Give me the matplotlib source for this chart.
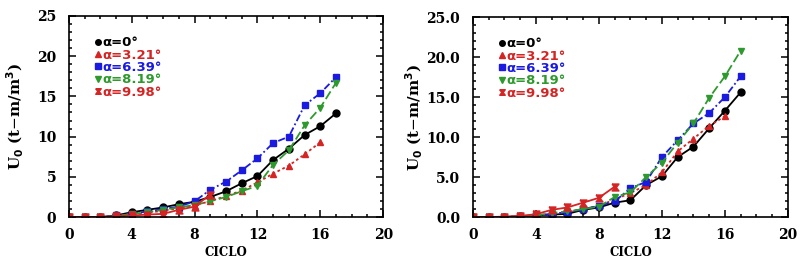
import matplotlib
matplotlib.use('Agg')
import matplotlib.pyplot as plt
from matplotlib.lines import Line2D
from matplotlib.ticker import MultipleLocator, FormatStrFormatter

ciclo = list(range(18))

# panel izquierdo
left_a0 = [0, 0, 0, 0.2, 0.6, 0.9, 1.2, 1.6, 1.9, 2.5, 3.2, 4.2, 5.1, 7.1, 8.5, 10.2, 11.3, 12.9]
left_a321 = [0, 0, 0, 0.1, 0.3, 0.5, 0.8, 1.1, 1.4, 2.0, 2.6, 3.3, 4.3, 5.4, 6.4, 7.8, 9.3]
left_a639 = [0, 0, 0, 0.2, 0.4, 0.7, 1.0, 1.3, 1.95, 3.4, 4.4, 5.8, 7.3, 9.2, 10.0, 13.9, 15.4, 17.4]
left_a819 = [0, 0, 0, 0.1, 0.4, 0.6, 0.9, 1.2, 1.5, 1.95, 2.5, 3.2, 3.9, 6.5, 8.3, 11.4, 13.6, 16.7]
left_a998 = [0, 0, 0, 0.1, 0.2, 0.3, 0.4, 0.9, 1.3, 2.8]

# panel derecho
right_a0 = [0, 0, 0, 0.1, 0.2, 0.3, 0.4, 0.9, 1.2, 1.8, 2.1, 4.0, 5.1, 7.5, 8.8, 11.1, 13.3, 15.6]
right_a321 = [0, 0, 0, 0.1, 0.2, 0.4, 0.6, 1.0, 1.4, 2.2, 3.0, 4.0, 5.6, 8.2, 9.8, 11.4, 12.6]
right_a639 = [0, 0, 0, 0.1, 0.2, 0.4, 0.6, 1.0, 1.4, 1.95, 3.6, 4.4, 7.5, 9.6, 11.7, 13.0, 15.0, 17.6]
right_a819 = [0, 0, 0, 0.1, 0.2, 0.5, 0.7, 1.0, 1.3, 2.5, 3.1, 5.0, 6.8, 9.3, 11.7, 14.9, 17.6, 20.8]
right_a998 = [0, 0, 0.05, 0.15, 0.35, 0.9, 1.2, 1.8, 2.4, 3.8]

labels = ['α=0°', 'α=3.21°', 'α=6.39°', 'α=8.19°', 'α=9.98°']

RED = '#d42424'
BLUE = '#1a1ae0'
GREEN = '#2e9a2e'
hourglass = [(-1, 1), (1, 1), (0.25, 0), (1, -1), (-1, -1), (-0.25, 0), (-1, 1)]

styles = [
    dict(color='black', marker='o', ls='-'),
    dict(color=RED, marker='^', ls=(0, (1.5, 1.5))),
    dict(color=BLUE, marker='s', ls=(0, (4, 1.5, 1, 1.5))),
    dict(color=GREEN, marker='v', ls=(0, (5, 2))),
    dict(color=RED, marker=hourglass, ls='-'),
]

fig = plt.figure(figsize=(8, 2.66), dpi=100)
ax1 = fig.add_axes([0.086, 0.184, 0.393, 0.756])
ax2 = fig.add_axes([0.591, 0.184, 0.394, 0.752])

serif = {'family': 'DejaVu Serif', 'weight': 'bold'}


def draw(ax, series, fmt, ylab_x):
    for ys, st in zip(series, styles):
        ax.plot(ciclo[:len(ys)], ys, color=st['color'], ls=st['ls'], lw=1.3,
                marker=st['marker'], ms=5, mec=st['color'], mfc=st['color'])
    ax.set_xlim(0, 20)
    ax.set_ylim(0, 25)
    ax.xaxis.set_major_locator(MultipleLocator(4))
    ax.xaxis.set_minor_locator(MultipleLocator(1))
    ax.yaxis.set_major_locator(MultipleLocator(5))
    ax.yaxis.set_minor_locator(MultipleLocator(1))
    ax.yaxis.set_major_formatter(FormatStrFormatter(fmt))
    ax.tick_params(which='both', direction='in', top=True, right=True, width=1.1)
    ax.tick_params(which='major', length=5, labelsize=10)
    ax.tick_params(axis='x', which='major', pad=8)
    ax.tick_params(axis='y', which='major', pad=9)
    ax.tick_params(which='minor', length=2.5)
    for lab in ax.get_xticklabels() + ax.get_yticklabels():
        lab.set_fontfamily('DejaVu Serif')
        lab.set_fontweight('bold')
    for sp in ax.spines.values():
        sp.set_linewidth(1.2)
    ax.set_xlabel('CICLO', fontdict=serif, fontsize=8.5, labelpad=3)
    ax.set_ylabel(r'U$_{\mathbf{0}}$ (t$-$m/m$^{\mathbf{3}}$)', fontdict=serif, fontsize=11)
    ax.yaxis.set_label_coords(ylab_x, 0.5)
    handles = [Line2D([], [], ls='none', marker=st['marker'], color=st['color'], ms=4)
               for st in styles]
    leg = ax.legend(handles, labels, loc='upper left', bbox_to_anchor=(0.055, 0.945),
                    frameon=False, handlelength=0.4, handletextpad=0.15,
                    labelspacing=-0.05, borderpad=0.2,
                    prop={'family': 'DejaVu Sans', 'weight': 'bold', 'size': 9.5})
    for txt, st in zip(leg.get_texts(), styles):
        txt.set_color(st['color'])


draw(ax1, [left_a0, left_a321, left_a639, left_a819, left_a998], '%d', -0.135)
draw(ax2, [right_a0, right_a321, right_a639, right_a819, right_a998], '%.1f', -0.152)

fig.savefig('out.png', dpi=100)
